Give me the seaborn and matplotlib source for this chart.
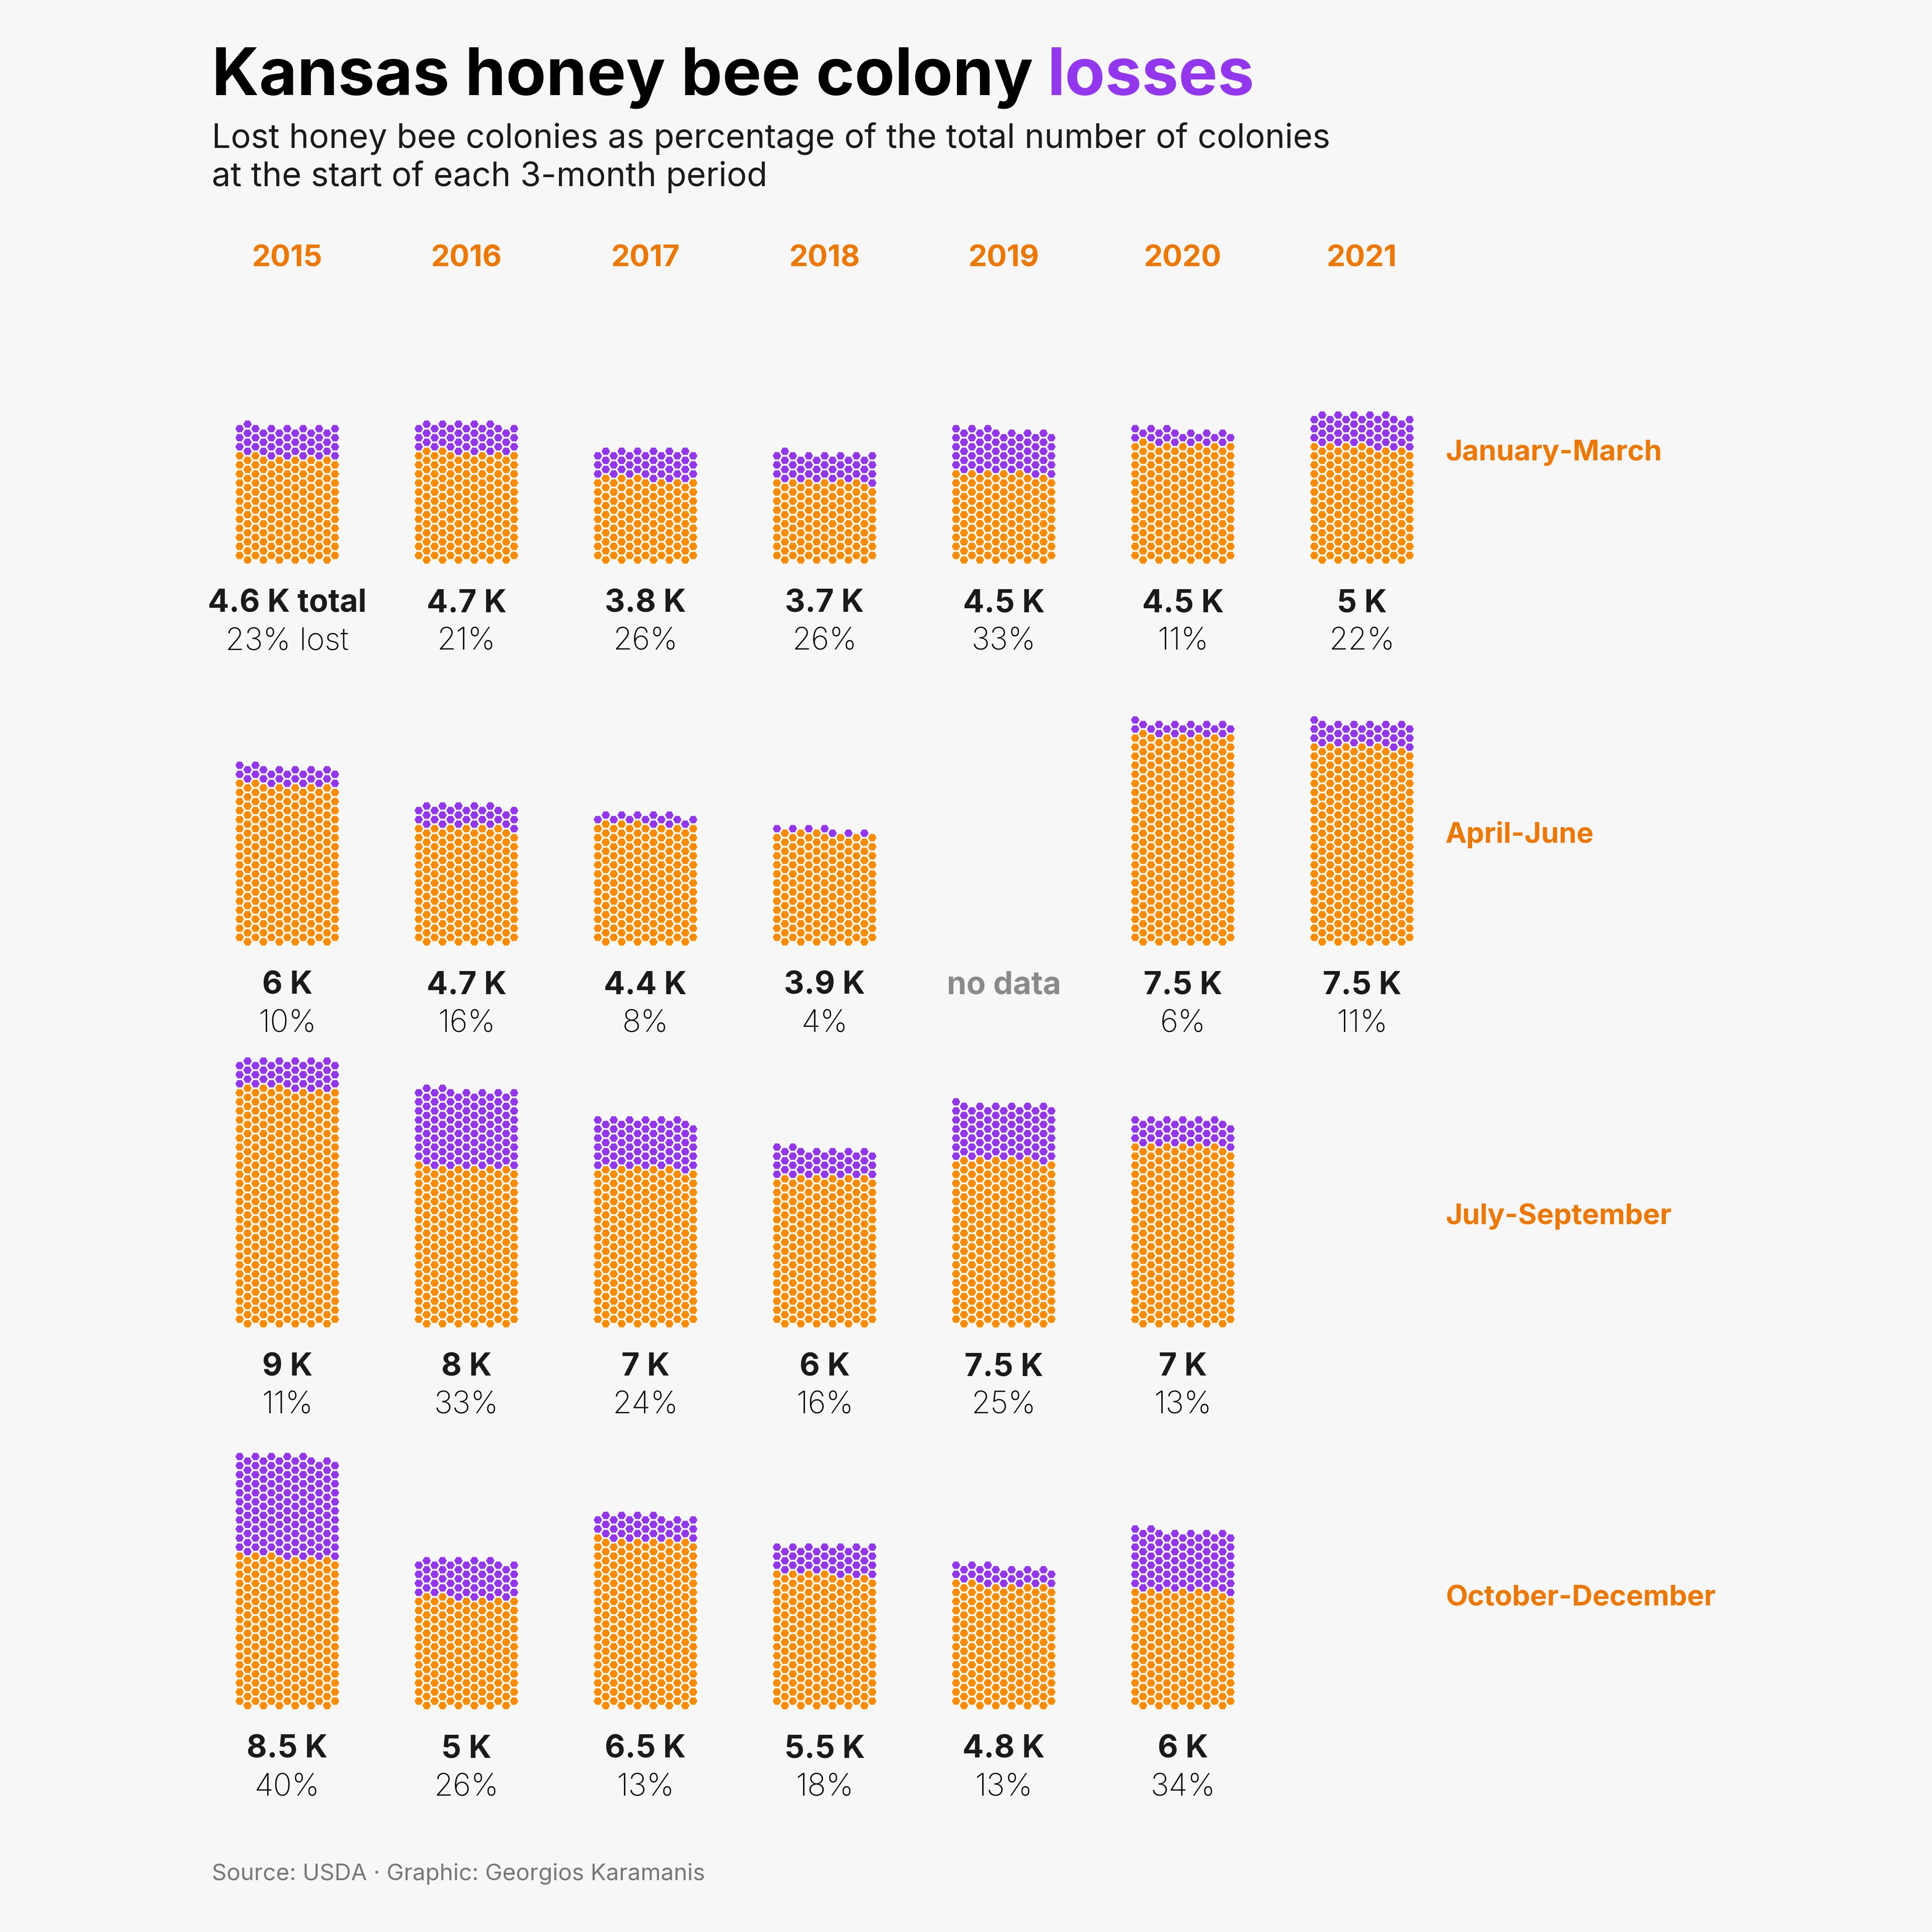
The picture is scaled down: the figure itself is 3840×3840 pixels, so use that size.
import matplotlib.pyplot as plt
import seaborn as sns
import numpy as np
import pandas as pd

# data (thousands of colonies at the start of each quarter, % lost)
years = ["2015", "2016", "2017", "2018", "2019", "2020", "2021"]
quarters = ["January-March", "April-June", "July-September", "October-December"]

colonies_q1 = [4.6, 4.7, 3.8, 3.7, 4.5, 4.5, 5.0]
lost_q1 = [23, 21, 26, 26, 33, 11, 22]
colonies_q2 = [6.0, 4.7, 4.4, 3.9, None, 7.5, 7.5]
lost_q2 = [10, 16, 8, 4, None, 6, 11]
colonies_q3 = [9.0, 8.0, 7.0, 6.0, 7.5, 7.0, None]
lost_q3 = [11, 33, 24, 16, 25, 13, None]
colonies_q4 = [8.5, 5.0, 6.5, 5.5, 4.8, 6.0, None]
lost_q4 = [40, 26, 13, 18, 13, 34, None]

colonies = [colonies_q1, colonies_q2, colonies_q3, colonies_q4]
lost = [lost_q1, lost_q2, lost_q3, lost_q4]

COLONIES_PER_HEX = 23.5

BG = "#F7F7F7"
ORANGE = "#FF8C00"
PURPLE = "#9337EE"
LABEL_ORANGE = "#EE7700"
DARK = "#1A1A1A"

# layout in pixels of the 3840 x 3840 canvas
col_x = 571
col_step = 356
row_base = 1121
row_step = 759
hex_dx = 15.8
hex_dy = 9.0


def honeycomb(n_total, n_kept, cx, base):
    """Fill a 13-column honeycomb from the bottom, half-row by half-row."""
    xs, ys, st = [], [], []
    k, placed = 0, 0
    while placed < n_total:
        cols = range(1, 12, 2) if k % 2 == 0 else range(0, 13, 2)
        for c in cols:
            if placed >= n_total:
                break
            xs.append(cx + (c - 6) * hex_dx)
            ys.append(base - 8 - k * hex_dy)
            st.append("kept" if placed < n_kept else "lost")
            placed += 1
        k += 1
    return xs, ys, st


rows = []
for qi in range(4):
    for yi in range(len(years)):
        total = colonies[qi][yi]
        if total is None:
            continue
        n = int(round(total * 1000 / COLONIES_PER_HEX))
        n_lost = int(round(n * lost[qi][yi] / 100))
        xs, ys, st = honeycomb(n, n - n_lost, col_x + yi * col_step, row_base + qi * row_step)
        rows += [{"x": a, "y": b, "status": s} for a, b, s in zip(xs, ys, st)]
df = pd.DataFrame(rows)

sns.set_style("white")
plt.rcParams["font.family"] = ["Inter", "DejaVu Sans"]

fig = plt.figure(figsize=(12.8, 12.8), dpi=300, facecolor=BG)
ax = fig.add_axes([0, 0, 1, 1], facecolor=BG)

px = 72 / 300  # points per pixel
sns.scatterplot(data=df, x="x", y="y", hue="status", hue_order=["kept", "lost"],
                palette={"kept": ORANGE, "lost": PURPLE}, marker="H",
                s=(19.5 * px) ** 2, edgecolor="white", linewidth=2.2 * px,
                legend=False, ax=ax)

ax.set_xlim(0, 3840)
ax.set_ylim(3840, 0)
ax.axis("off")

# labels under each honeycomb
for qi in range(4):
    base = row_base + qi * row_step
    for yi in range(len(years)):
        cx = col_x + yi * col_step
        total = colonies[qi][yi]
        if total is None:
            if qi == 1:
                ax.text(cx, base + 79, "no data", ha="center", va="center",
                        fontsize=15, fontweight="bold", color="#8A8A8A")
            continue
        lab = f"{total:g} K" + (" total" if (qi == 0 and yi == 0) else "")
        pct = f"{lost[qi][yi]}%" + (" lost" if (qi == 0 and yi == 0) else "")
        ax.text(cx, base + 79, lab, ha="center", va="center",
                fontsize=15, fontweight="bold", color=DARK)
        ax.text(cx, base + 155, pct, ha="center", va="center",
                fontsize=14.8, fontweight="light", color="#0A0A0A")
    ax.text(2873, base - 221, quarters[qi], ha="left", va="center",
            fontsize=13.6, fontweight="bold", color=LABEL_ORANGE)

for yi, yr in enumerate(years):
    ax.text(col_x + yi * col_step, 514, yr, ha="center", va="center",
            fontsize=14.2, fontweight="bold", color=LABEL_ORANGE)

# title with the coloured last word
t1 = ax.text(421, 189, "Kansas honey bee colony", ha="left", va="baseline",
             fontsize=31.3, fontweight="bold", color="black")
fig.canvas.draw()
bb = t1.get_window_extent(renderer=fig.canvas.get_renderer())
x_end = ax.transData.inverted().transform((bb.x1, bb.y0))[0]
ax.text(x_end + 28, 189, "losses", ha="left", va="baseline",
        fontsize=31.3, fontweight="bold", color=PURPLE)

ax.text(421, 294, "Lost honey bee colonies as percentage of the total number of colonies",
        ha="left", va="baseline", fontsize=16.0, color="#1A1A1A")
ax.text(421, 370, "at the start of each 3-month period",
        ha="left", va="baseline", fontsize=16.0, color="#1A1A1A")

ax.text(421, 3725, "Source: USDA · Graphic: Georgios Karamanis", ha="left", va="center",
        fontsize=11, color="#777777")

fig.savefig("out.png", dpi=300, facecolor=BG)
plt.close()
